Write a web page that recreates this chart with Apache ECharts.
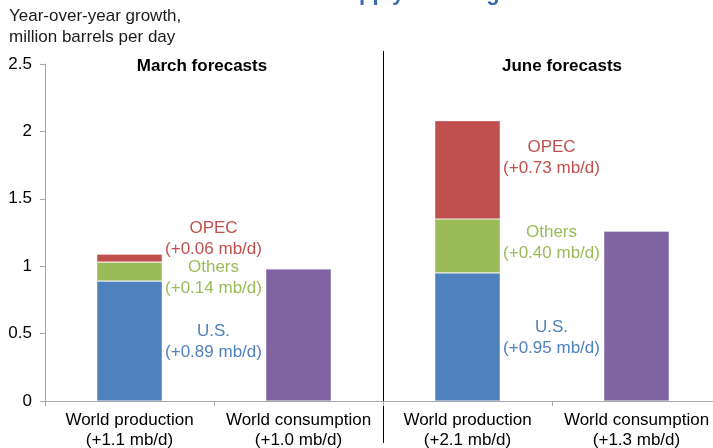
<!DOCTYPE html>
<html>
<head>
<meta charset="utf-8">
<script src="https://cdn.jsdelivr.net/npm/echarts@6/dist/echarts.min.js"></script>
<style>
  html, body { margin: 0; padding: 0; background: #fff; }
  #chart { width: 713px; height: 448px; }
</style>
</head>
<body>
<div id="chart"></div>
<script>
// ---- data ----
const categories = [
  'World production\n(+1.1 mb/d)',
  'World consumption\n(+1.0 mb/d)',
  'World production\n(+2.1 mb/d)',
  'World consumption\n(+1.3 mb/d)'
];
const usValues = [0.89, null, 0.95, null];
const othersValues = [0.14, null, 0.40, null];
const opecValues = [0.06, null, 0.73, null];
const consumptionValues = [null, 0.98, null, 1.26];
const panelTitles = ['March forecasts', 'June forecasts'];
const yAxisTitle = 'Year-over-year growth,\nmillion barrels per day';
const chartTitle = 'EIA Forecast Revisions: World Supply Growing';

// ---- layout ----
const FONT = '"Liberation Sans", Arial, sans-serif';
const G = { left: 45, top: 64, width: 676, height: 337 };
const labelDx = 84;
const usDy = [1, null, 1, null];
const othersDy = [6, null, -3, null];
const opecDy = [-19.5, null, -12, null];
const panelTitleX = [202, 562];

const colors = { us: '#4f81bd', others: '#9bbb59', opec: '#c0504d', cons: '#8064a2' };

function segData(values, dys) {
  return values.map((v, i) => v == null ? null : ({
    value: v,
    label: { offset: [labelDx, dys[i]] }
  }));
}
function segLabel(name, color) {
  return {
    show: true,
    position: 'inside',
    align: 'center',
    verticalAlign: 'middle',
    color: color,
    fontFamily: FONT,
    fontSize: 17,
    lineHeight: 20.5,
    textBorderWidth: 0,
    formatter: p => name + '\n(+' + Number(p.value).toFixed(2) + ' mb/d)'
  };
}
const barStyle = c => ({ color: c, borderColor: 'rgba(255,255,255,0.45)', borderWidth: 0.7 });

const chart = echarts.init(document.getElementById('chart'), null, { renderer: 'canvas' });
const midX = G.left + G.width / 2 + 0.5;

chart.setOption({
  animation: false,
  grid: { left: G.left, top: G.top, width: G.width, height: G.height, containLabel: false, outerBoundsMode: 'none' },
  xAxis: {
    type: 'category',
    data: categories,
    axisLine: { show: true, lineStyle: { color: '#a6a6a6', width: 1 } },
    axisTick: { show: true, length: 5, lineStyle: { color: '#a6a6a6' } },
    axisLabel: { color: '#000', fontFamily: FONT, fontSize: 17, lineHeight: 20, margin: 9, interval: 0 }
  },
  yAxis: {
    type: 'value',
    min: 0, max: 2.5, interval: 0.5,
    splitLine: { show: false },
    axisLine: { show: true, lineStyle: { color: '#a6a6a6', width: 1 } },
    axisTick: { show: true, length: 5, lineStyle: { color: '#a6a6a6' } },
    axisLabel: { color: '#000', fontFamily: FONT, fontSize: 17, margin: 13 }
  },
  series: [
    { name: 'U.S.', type: 'bar', stack: 'total', barWidth: '38.8%',
      itemStyle: barStyle(colors.us), label: segLabel('U.S.', colors.us),
      data: segData(usValues, usDy) },
    { name: 'Others', type: 'bar', stack: 'total',
      itemStyle: barStyle(colors.others), label: segLabel('Others', colors.others),
      data: segData(othersValues, othersDy) },
    { name: 'OPEC', type: 'bar', stack: 'total',
      itemStyle: barStyle(colors.opec), label: segLabel('OPEC', colors.opec),
      data: segData(opecValues, opecDy) },
    { name: 'Consumption', type: 'bar', stack: 'total',
      itemStyle: barStyle(colors.cons),
      data: consumptionValues }
  ],
  graphic: [
    { type: 'text', left: 5, top: -17,
      style: { text: chartTitle, fill: '#3d6db0', font: 'bold 22px ' + FONT } },
    { type: 'text', left: 9, top: 6,
      style: { text: yAxisTitle, fill: '#1a1a1a', fontFamily: FONT, fontSize: 17, lineHeight: 21 } },
    { type: 'line', shape: { x1: midX, y1: 51, x2: midX, y2: 443 },
      style: { stroke: '#000', lineWidth: 1 } },
    { type: 'text', x: panelTitleX[0], y: 66,
      style: { text: panelTitles[0], fill: '#000', font: 'bold 17px ' + FONT, textAlign: 'center', textVerticalAlign: 'middle' } },
    { type: 'text', x: panelTitleX[1], y: 66,
      style: { text: panelTitles[1], fill: '#000', font: 'bold 17px ' + FONT, textAlign: 'center', textVerticalAlign: 'middle' } }
  ]
});
</script>
</body>
</html>
